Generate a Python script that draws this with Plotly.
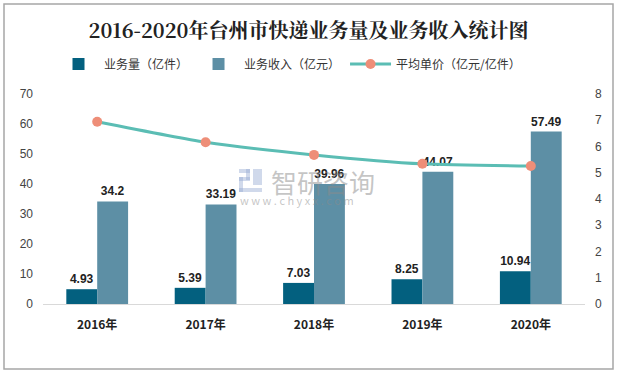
import plotly.graph_objects as go

years = ["2016年", "2017年", "2018年", "2019年", "2020年"]
volume = [4.93, 5.39, 7.03, 8.25, 10.94]
revenue = [34.2, 33.19, 39.96, 44.07, 57.49]
unit_price = [6.94, 6.16, 5.68, 5.34, 5.26]

W, H = 617, 374
ml, mr, mt, mb = 43, 32, 94, 70
PW, PH = W - ml - mr, H - mt - mb


def px(x):
    return (x - ml) / PW


def py(y):
    return (H - mb - y) / PH


label_font = dict(size=12, color="#222222", family="Liberation Sans")

fig = go.Figure()
fig.add_trace(go.Bar(
    x=years, y=volume, name="业务量（亿件）",
    marker=dict(color="#03607F", line=dict(width=0)),
    text=[f"<b>{v:g}</b>" for v in volume], textposition="outside",
    textfont=label_font, cliponaxis=False,
))
fig.add_trace(go.Bar(
    x=years, y=revenue, name="业务收入（亿元）",
    marker=dict(color="#5D8FA5", line=dict(width=0)),
    text=[f"<b>{v:g}</b>" for v in revenue], textposition="outside",
    textfont=label_font, cliponaxis=False,
))
fig.add_trace(go.Scatter(
    x=years, y=unit_price, name="平均单价（亿元/亿件）", yaxis="y2",
    mode="lines+markers",
    line=dict(color="#5BBDB4", width=3, shape="spline", smoothing=0.6),
    marker=dict(color="#EE8E78", size=10),
))

fig.update_layout(
    width=W, height=H,
    margin=dict(l=ml, r=mr, t=mt, b=mb),
    paper_bgcolor="white", plot_bgcolor="white",
    font=dict(family="Noto Sans CJK SC", size=12, color="#333333"),
    barmode="group", bargap=0.43, bargroupgap=0,
    title=dict(text="<b>2016-2020年台州市快递业务量及业务收入统计图</b>",
               x=0.5, xanchor="center", y=1 - 31 / H, yanchor="middle",
               yref="container",
               font=dict(size=20, color="#222222",
                         family="Noto Serif CJK SC, DejaVu Serif, Noto Sans CJK SC")),
    legend=dict(orientation="h", x=px(53), xanchor="left",
                y=1 + 30 / PH, yanchor="middle",
                font=dict(size=12, color="#333333"), bgcolor="rgba(0,0,0,0)",
                itemwidth=41, traceorder="normal"),
    xaxis=dict(showline=True, linecolor="#D9D9D9", linewidth=1, ticks="",
               tickfont=dict(size=12, color="#222222", family="Noto Sans CJK SC"),
               ticklabelstandoff=10, showgrid=False),
    yaxis=dict(range=[0, 70], dtick=10, showgrid=False, zeroline=False,
               showline=False, ticks="", ticklabelstandoff=9,
               tickfont=dict(size=12, color="#444444", family="Liberation Sans")),
    yaxis2=dict(range=[0, 8], dtick=1, overlaying="y", side="right",
                showgrid=False, zeroline=False, showline=False, ticks="",
                ticklabelstandoff=9,
                tickfont=dict(size=12, color="#444444", family="Liberation Sans")),
)
fig.update_xaxes(tickprefix="<b>", ticksuffix="</b>")

# outer frame
fig.add_shape(type="rect", xref="paper", yref="paper",
              x0=px(4), x1=px(613), y0=py(369), y1=py(4),
              line=dict(color="#A6A6A6", width=1.5), fillcolor="rgba(0,0,0,0)",
              layer="below")

# watermark logo (simple blocks)
logo_col = "rgba(150,170,210,0.45)"
for (x0, y0, x1, y1) in [(239, 169, 250, 173), (246, 169, 250, 180),
                         (239, 177, 250, 181), (239, 177, 243, 192),
                         (239, 188, 262, 192), (253, 169, 262, 185)]:
    fig.add_shape(type="rect", xref="paper", yref="paper",
                  x0=px(x0), x1=px(x1), y0=py(y1), y1=py(y0),
                  line=dict(width=0), fillcolor=logo_col, layer="above")

# watermark text
fig.add_annotation(text="智研咨询", xref="paper", yref="paper",
                   x=px(269), y=py(181), xanchor="left", yanchor="middle",
                   showarrow=False,
                   font=dict(size=26, color="rgba(140,140,140,0.5)"))
fig.add_annotation(text="w w w . c h y x x . c o m", xref="paper", yref="paper",
                   x=px(238), y=py(200), xanchor="left", yanchor="middle",
                   showarrow=False,
                   font=dict(size=11, color="rgba(140,140,140,0.5)"))

fig.write_html("out.html", config={"displayModeBar": False},
               post_script="document.body.style.margin='0';")
